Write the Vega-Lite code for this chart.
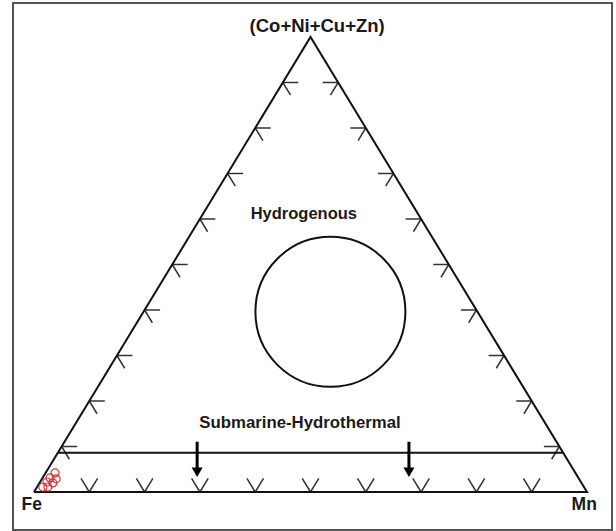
{
  "$schema": "https://vega.github.io/schema/vega-lite/v6.json",
  "width": 599,
  "height": 527,
  "autosize": {"type": "none"},
  "padding": {"left": 13, "top": 3, "right": 4, "bottom": 1},
  "background": "white",
  "config": {
    "view": {"stroke": "#555555", "strokeWidth": 2},
    "axis": {"domain": false, "grid": false, "ticks": false, "labels": false, "title": null}
  },
  "datasets": {
    "triangle": [
      {"x": 0, "y": 0, "o": 1},
      {"x": 50, "y": 100, "o": 2},
      {"x": 100, "y": 0, "o": 3},
      {"x": 0, "y": 0, "o": 4}
    ],
    "ticks": [
      {"x": 5, "y": 10, "x2": 7.8, "y2": 10}, {"x": 5, "y": 10, "x2": 6.4, "y2": 7.2},
      {"x": 10, "y": 20, "x2": 12.8, "y2": 20}, {"x": 10, "y": 20, "x2": 11.4, "y2": 17.2},
      {"x": 15, "y": 30, "x2": 17.8, "y2": 30}, {"x": 15, "y": 30, "x2": 16.4, "y2": 27.2},
      {"x": 20, "y": 40, "x2": 22.8, "y2": 40}, {"x": 20, "y": 40, "x2": 21.4, "y2": 37.2},
      {"x": 25, "y": 50, "x2": 27.8, "y2": 50}, {"x": 25, "y": 50, "x2": 26.4, "y2": 47.2},
      {"x": 30, "y": 60, "x2": 32.8, "y2": 60}, {"x": 30, "y": 60, "x2": 31.4, "y2": 57.2},
      {"x": 35, "y": 70, "x2": 37.8, "y2": 70}, {"x": 35, "y": 70, "x2": 36.4, "y2": 67.2},
      {"x": 40, "y": 80, "x2": 42.8, "y2": 80}, {"x": 40, "y": 80, "x2": 41.4, "y2": 77.2},
      {"x": 45, "y": 90, "x2": 47.8, "y2": 90}, {"x": 45, "y": 90, "x2": 46.4, "y2": 87.2},
      {"x": 95, "y": 10, "x2": 92.2, "y2": 10}, {"x": 95, "y": 10, "x2": 93.6, "y2": 7.2},
      {"x": 90, "y": 20, "x2": 87.2, "y2": 20}, {"x": 90, "y": 20, "x2": 88.6, "y2": 17.2},
      {"x": 85, "y": 30, "x2": 82.2, "y2": 30}, {"x": 85, "y": 30, "x2": 83.6, "y2": 27.2},
      {"x": 80, "y": 40, "x2": 77.2, "y2": 40}, {"x": 80, "y": 40, "x2": 78.6, "y2": 37.2},
      {"x": 75, "y": 50, "x2": 72.2, "y2": 50}, {"x": 75, "y": 50, "x2": 73.6, "y2": 47.2},
      {"x": 70, "y": 60, "x2": 67.2, "y2": 60}, {"x": 70, "y": 60, "x2": 68.6, "y2": 57.2},
      {"x": 65, "y": 70, "x2": 62.2, "y2": 70}, {"x": 65, "y": 70, "x2": 63.6, "y2": 67.2},
      {"x": 60, "y": 80, "x2": 57.2, "y2": 80}, {"x": 60, "y": 80, "x2": 58.6, "y2": 77.2},
      {"x": 55, "y": 90, "x2": 52.2, "y2": 90}, {"x": 55, "y": 90, "x2": 53.6, "y2": 87.2},
      {"x": 10, "y": 0, "x2": 8.5, "y2": 3}, {"x": 10, "y": 0, "x2": 11.5, "y2": 3},
      {"x": 20, "y": 0, "x2": 18.5, "y2": 3}, {"x": 20, "y": 0, "x2": 21.5, "y2": 3},
      {"x": 30, "y": 0, "x2": 28.5, "y2": 3}, {"x": 30, "y": 0, "x2": 31.5, "y2": 3},
      {"x": 40, "y": 0, "x2": 38.5, "y2": 3}, {"x": 40, "y": 0, "x2": 41.5, "y2": 3},
      {"x": 50, "y": 0, "x2": 48.5, "y2": 3}, {"x": 50, "y": 0, "x2": 51.5, "y2": 3},
      {"x": 60, "y": 0, "x2": 58.5, "y2": 3}, {"x": 60, "y": 0, "x2": 61.5, "y2": 3},
      {"x": 70, "y": 0, "x2": 68.5, "y2": 3}, {"x": 70, "y": 0, "x2": 71.5, "y2": 3},
      {"x": 80, "y": 0, "x2": 78.5, "y2": 3}, {"x": 80, "y": 0, "x2": 81.5, "y2": 3},
      {"x": 90, "y": 0, "x2": 88.5, "y2": 3}, {"x": 90, "y": 0, "x2": 91.5, "y2": 3}
    ],
    "boundary": [
      {"x": 4.32, "y": 8.64, "x2": 95.68, "y2": 8.64}
    ],
    "shafts": [
      {"x": 29.5, "y": 11.05, "x2": 29.5, "y2": 5.0},
      {"x": 67.8, "y": 11.05, "x2": 67.8, "y2": 5.0}
    ],
    "heads": [
      {"x": 29.5, "y": 4.35},
      {"x": 67.8, "y": 4.35}
    ],
    "field": [
      {"x": 53.6, "y": 39.6, "label": "Hydrogenous field"}
    ],
    "samples": [
      {"x": 3.8, "y": 4.2},
      {"x": 2.9, "y": 3.1},
      {"x": 4.0, "y": 2.9},
      {"x": 2.35, "y": 2.2},
      {"x": 3.4, "y": 2.0},
      {"x": 1.6, "y": 1.1},
      {"x": 2.5, "y": 1.1}
    ],
    "labels": [
      {"x": 51.2, "y": 102.5, "text": "(Co+Ni+Cu+Zn)", "size": 18.5},
      {"x": 48.8, "y": 61.1, "text": "Hydrogenous", "size": 16.5},
      {"x": 48.1, "y": 15.2, "text": "Submarine-Hydrothermal", "size": 16.8},
      {"x": -0.4, "y": -2.86, "text": "Fe", "size": 17.5},
      {"x": 99.5, "y": -2.86, "text": "Mn", "size": 17.5}
    ]
  },
  "layer": [
    {
      "data": {"name": "ticks"},
      "mark": {"type": "rule", "stroke": "#333333", "strokeWidth": 1.5},
      "encoding": {
        "x": {"field": "x", "type": "quantitative", "scale": {"domain": [-3.797, 104.52], "nice": false, "zero": false}, "axis": null},
        "y": {"field": "y", "type": "quantitative", "scale": {"domain": [-8.35, 107.47], "nice": false, "zero": false}, "axis": null},
        "x2": {"field": "x2"},
        "y2": {"field": "y2"}
      }
    },
    {
      "data": {"name": "triangle"},
      "mark": {"type": "line", "stroke": "#111111", "strokeWidth": 2, "strokeJoin": "miter"},
      "encoding": {
        "x": {"field": "x", "type": "quantitative", "scale": {"domain": [-3.797, 104.52], "nice": false, "zero": false}, "axis": null},
        "y": {"field": "y", "type": "quantitative", "scale": {"domain": [-8.35, 107.47], "nice": false, "zero": false}, "axis": null},
        "order": {"field": "o", "type": "quantitative"}
      }
    },
    {
      "data": {"name": "boundary"},
      "mark": {"type": "rule", "stroke": "#111111", "strokeWidth": 2},
      "encoding": {
        "x": {"field": "x", "type": "quantitative", "scale": {"domain": [-3.797, 104.52], "nice": false, "zero": false}, "axis": null},
        "y": {"field": "y", "type": "quantitative", "scale": {"domain": [-8.35, 107.47], "nice": false, "zero": false}, "axis": null},
        "x2": {"field": "x2"},
        "y2": {"field": "y2"}
      }
    },
    {
      "data": {"name": "shafts"},
      "mark": {"type": "rule", "stroke": "#000000", "strokeWidth": 3},
      "encoding": {
        "x": {"field": "x", "type": "quantitative", "scale": {"domain": [-3.797, 104.52], "nice": false, "zero": false}, "axis": null},
        "y": {"field": "y", "type": "quantitative", "scale": {"domain": [-8.35, 107.47], "nice": false, "zero": false}, "axis": null},
        "x2": {"field": "x2"},
        "y2": {"field": "y2"}
      }
    },
    {
      "data": {"name": "heads"},
      "mark": {"type": "point", "shape": "triangle-down", "filled": true, "fill": "#000000", "stroke": null, "size": 121, "opacity": 1},
      "encoding": {
        "x": {"field": "x", "type": "quantitative", "scale": {"domain": [-3.797, 104.52], "nice": false, "zero": false}, "axis": null},
        "y": {"field": "y", "type": "quantitative", "scale": {"domain": [-8.35, 107.47], "nice": false, "zero": false}, "axis": null}
      }
    },
    {
      "data": {"name": "field"},
      "mark": {"type": "point", "shape": "circle", "filled": false, "stroke": "#111111", "strokeWidth": 2, "size": 22500, "opacity": 1},
      "encoding": {
        "x": {"field": "x", "type": "quantitative", "scale": {"domain": [-3.797, 104.52], "nice": false, "zero": false}, "axis": null},
        "y": {"field": "y", "type": "quantitative", "scale": {"domain": [-8.35, 107.47], "nice": false, "zero": false}, "axis": null}
      }
    },
    {
      "data": {"name": "samples"},
      "mark": {"type": "point", "shape": "circle", "filled": false, "stroke": "#d23a3a", "strokeWidth": 1.2, "size": 64, "opacity": 1},
      "encoding": {
        "x": {"field": "x", "type": "quantitative", "scale": {"domain": [-3.797, 104.52], "nice": false, "zero": false}, "axis": null},
        "y": {"field": "y", "type": "quantitative", "scale": {"domain": [-8.35, 107.47], "nice": false, "zero": false}, "axis": null}
      }
    },
    {
      "data": {"name": "labels"},
      "mark": {"type": "text", "font": "Liberation Sans", "fontWeight": "bold", "fill": "#1a1a1a", "align": "center", "baseline": "middle"},
      "encoding": {
        "x": {"field": "x", "type": "quantitative", "scale": {"domain": [-3.797, 104.52], "nice": false, "zero": false}, "axis": null},
        "y": {"field": "y", "type": "quantitative", "scale": {"domain": [-8.35, 107.47], "nice": false, "zero": false}, "axis": null},
        "text": {"field": "text"},
        "size": {"field": "size", "type": "quantitative", "scale": null}
      }
    }
  ]
}
